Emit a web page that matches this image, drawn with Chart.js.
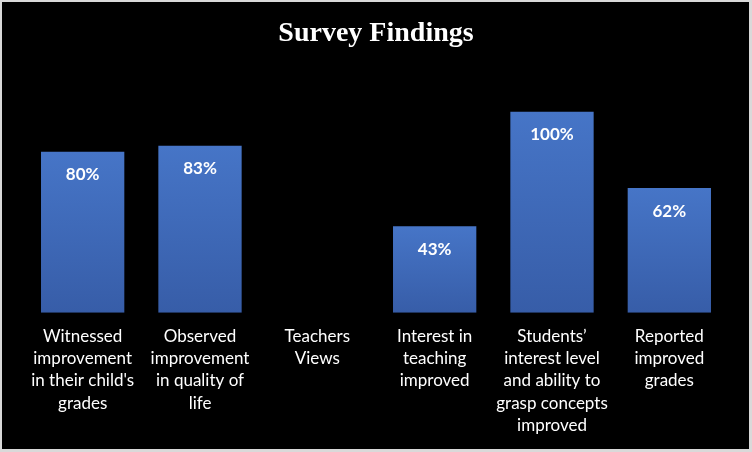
<!DOCTYPE html>
<html><head><meta charset="utf-8">
<script src="https://cdn.jsdelivr.net/npm/chart.js@4"></script>
<style>
html,body{margin:0;padding:0;background:#d9d9d9;width:752px;height:452px;overflow:hidden}
#wrap{position:absolute;left:2px;top:2px;width:747px;height:447px;background:#000}
</style></head><body>
<div id="wrap"><canvas id="c" width="747" height="447"></canvas></div>
<script>
const categories = [
  ["Witnessed","improvement","in their child's","grades"],
  ["Observed","improvement","in quality of","life"],
  ["Teachers","Views"],
  ["Interest in","teaching","improved"],
  ["Students\u2019","interest level","and ability to","grasp concepts","improved"],
  ["Reported","improved","grades"]
];
const values = [80, 83, null, 43, 100, 62];
const valueLabels = ["80%","83%","","43%","100%","62%"];

function barFill(ctx){
  const chart = ctx.chart;
  const v = ctx.raw;
  if (!chart.chartArea || v == null) return '#4472C4';
  const ys = chart.scales.y;
  const top = ys.getPixelForValue(v), base = ys.getPixelForValue(0);
  const g = chart.ctx.createLinearGradient(0, top, 0, base);
  g.addColorStop(0, '#4675C7');
  g.addColorStop(1, '#375DA8');
  return g;
}

const labelPlugin = {
  id: 'valLabels',
  afterDatasetsDraw(chart){
    const c = chart.ctx;
    const meta = chart.getDatasetMeta(0);
    c.save();
    c.fillStyle = '#ffffff';
    c.font = 'bold 17px Lato, "Open Sans", sans-serif';
    c.textAlign = 'center';
    c.textBaseline = 'middle';
    meta.data.forEach((el, i) => {
      if (values[i] == null) return;
      c.fillText(valueLabels[i], el.x, el.y + 23);
    });
    c.restore();
  }
};

new Chart(document.getElementById('c'), {
  type: 'bar',
  data: { labels: categories, datasets: [{ data: values, backgroundColor: barFill, borderWidth: 0 }] },
  options: {
    responsive: false,
    animation: false,
    events: [],
    layout: { padding: { left: 22, right: 21, top: 0, bottom: 0 } },
    plugins: {
      legend: { display: false },
      tooltip: { enabled: false },
      title: {
        display: true, text: 'Survey Findings', color: '#ffffff',
        font: { family: '"Liberation Serif", "DejaVu Serif", serif', size: 28, weight: 'bold', lineHeight: 1.2 },
        padding: { top: 15, bottom: 61 }
      }
    },
    datasets: { bar: { categoryPercentage: 1, barPercentage: 0.71 } },
    scales: {
      x: {
        grid: { display: false, drawTicks: false },
        border: { display: false },
        ticks: { color: '#ffffff', padding: 12, maxRotation: 0, autoSkip: false,
          font: { family: 'Lato, "Open Sans", sans-serif', size: 17, lineHeight: 1.32 } }
      },
      y: { display: false, min: 0, max: 100 }
    }
  },
  plugins: [labelPlugin]
});
</script>
</body></html>
